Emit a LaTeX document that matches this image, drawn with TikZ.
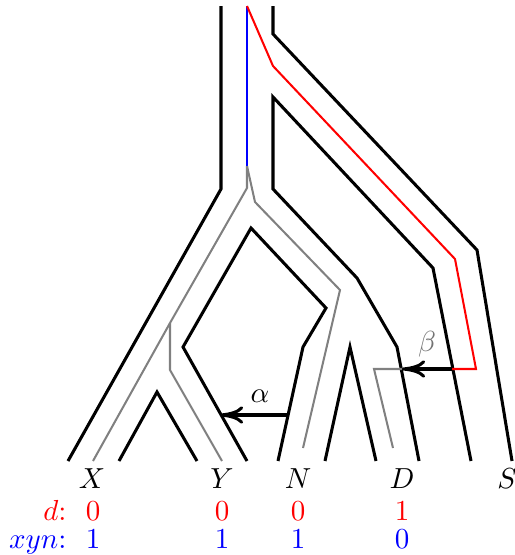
\documentclass[tikz,border=0pt]{standalone}
\usetikzlibrary{arrows.meta}
\begin{document}
\begin{tikzpicture}[x=0.345pt,y=-0.345pt,
  sp/.style={line width=1.05pt,black},
  gt/.style={line width=0.7pt,black!50},
  rd/.style={line width=0.7pt,red},
  bl/.style={line width=0.7pt,blue},
  tr/.style={line width=1.05pt,black,-{To[length=8pt,width=6pt]}},
  lab/.style={anchor=base,inner sep=0pt}]
\useasboundingbox (0,0) rectangle (514,555);
% species tree tubes
\draw[sp] (68,461) -- (221,189) -- (221,6);
\draw[sp] (273,6) -- (273,34) -- (477,250) -- (512,461);
\draw[sp] (471,461) -- (433,268) -- (273,97) -- (273,189) -- (357,278) -- (397,347) -- (419,461);
\draw[sp] (278,461) -- (303,347) -- (326,308) -- (251,228) -- (183,347) -- (247,461);
\draw[sp] (119,461) -- (157,392) -- (197,461);
\draw[sp] (325,461) -- (350,347) -- (376,461);
% gene paths
\draw[bl] (247,6) -- (247,166);
\draw[gt] (247,166) -- (247,188) -- (170,323) -- (93,461);
\draw[gt] (170,323) -- (170,370) -- (222,461);
\draw[gt] (247,166) -- (255,202) -- (340,290) -- (303,448);
\coordinate (b2) at (402,369);
\coordinate (b1) at (452,369);
\draw[gt] (b2) -- (374,369) -- (393,448);
\draw[rd] (247,6) -- (273,66) -- (455,259) -- (476,369) -- (b1);
\coordinate (a1) at (288,415);
\coordinate (a2) at (220,415);
\draw[tr] (a1) -- (a2);
\draw[tr] (b1) -- (b2);
\node[lab] (alpha) at (260,402) {$\alpha$};
\node[lab,text=black!55] (beta) at (427,351) {$\beta$};
% leaf labels
\node[lab] (X) at (92,488) {$X$};
\node[lab] (Y) at (222,488) {$Y$};
\node[lab] (N) at (298,488) {$N$};
\node[lab] (D) at (402,488) {$D$};
\node[lab] (S) at (507,488) {$S$};
\node[lab,anchor=base east,text=red] (dl) at (67,520) {$d$:};
\node[lab,text=red] (d1) at (93,520) {$0$};
\node[lab,text=red] (d2) at (222,520) {$0$};
\node[lab,text=red] (d3) at (298,520) {$0$};
\node[lab,text=red] (d4) at (402,520) {$1$};
\node[lab,anchor=base east,text=blue] (xl) at (67,548) {$xyn$:};
\node[lab,text=blue] (x1) at (93,548) {$1$};
\node[lab,text=blue] (x2) at (222,548) {$1$};
\node[lab,text=blue] (x3) at (298,548) {$1$};
\node[lab,text=blue] (x4) at (402,548) {$0$};
\end{tikzpicture}
\end{document}
